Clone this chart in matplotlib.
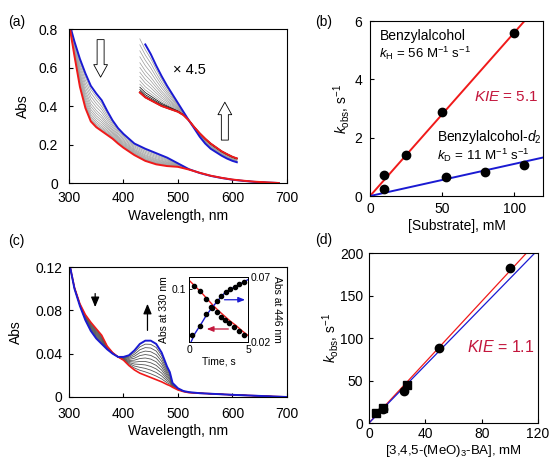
import numpy as np
import matplotlib
matplotlib.use("Agg")
import matplotlib.pyplot as plt

plt.rcParams['font.family'] = ['Liberation Sans', 'DejaVu Sans']
plt.rcParams['mathtext.fontset'] = 'custom'
plt.rcParams['mathtext.rm'] = 'Liberation Sans'
plt.rcParams['mathtext.it'] = 'Liberation Sans:italic'
plt.rcParams['mathtext.bf'] = 'Liberation Sans:bold'

RED = '#f01a1a'
BLUE = '#1a1ad2'
KIE_RED = '#c3163c'

# ---- panel (a): spectra (blue = initial, red = final) ----
a_wl = [302, 305, 310, 320, 330, 340, 350, 360, 370, 380, 390, 400, 420, 440,
        460, 480, 500, 520, 540, 560, 580, 600, 620, 640, 660, 685]
a_blue = [0.83, 0.786, 0.735, 0.645, 0.57, 0.505, 0.465, 0.43, 0.375, 0.325, 0.285,
          0.255, 0.205, 0.178, 0.155, 0.132, 0.102, 0.072, 0.052, 0.037, 0.026,
          0.017, 0.011, 0.006, 0.003, 0.0]
a_red = [0.80, 0.745, 0.66, 0.50, 0.39, 0.32, 0.29, 0.27, 0.25, 0.23, 0.205, 0.183,
         0.145, 0.115, 0.097, 0.088, 0.084, 0.07, 0.053, 0.038, 0.027, 0.018,
         0.012, 0.007, 0.004, 0.0]
# x4.5 expanded visible region
z_wl = [430, 440, 450, 460, 470, 480, 490, 500, 510, 520, 530, 540, 550, 560,
        570, 580, 590, 600, 608]
z_blue = [0.78, 0.72, 0.67, 0.61, 0.555, 0.505, 0.46, 0.415, 0.37, 0.325, 0.283,
          0.24, 0.205, 0.178, 0.16, 0.142, 0.127, 0.115, 0.108]
z_red = [0.47, 0.445, 0.43, 0.415, 0.40, 0.39, 0.38, 0.37, 0.353, 0.325, 0.29,
         0.258, 0.23, 0.205, 0.185, 0.165, 0.15, 0.136, 0.128]
# fraction of initial spectrum remaining in the intermediate traces
a_frac = [0.9, 0.8, 0.7, 0.6, 0.5, 0.42, 0.34, 0.27, 0.2, 0.14, 0.09, 0.05, 0.02]

# ---- panel (b) ----
b_h_x = [10, 25, 50, 100]
b_h_y = [0.73, 1.4, 2.87, 5.6]
b_d_x = [10, 53, 80, 107]
b_d_y = [0.23, 0.65, 0.83, 1.08]
k_h = 0.056   # s^-1 per mM
k_d = 0.011

# ---- panel (c): spectra (red = initial, blue = final) ----
c_wl = [302, 310, 320, 330, 340, 350, 360, 370, 380, 390, 400, 410, 420, 430,
        440, 450, 460, 470, 480, 485, 490, 500, 510, 520, 540, 560, 580, 600,
        650, 700]
c_blue = [0.12, 0.10, 0.084, 0.071, 0.061, 0.054, 0.049, 0.044, 0.040, 0.037,
          0.037, 0.0385, 0.043, 0.049, 0.052, 0.052, 0.049, 0.041, 0.028, 0.023,
          0.013, 0.008, 0.0055, 0.0045, 0.0035, 0.003, 0.0025, 0.002, 0.001, 0.0]
c_red = [0.12, 0.101, 0.086, 0.076, 0.069, 0.063, 0.057, 0.047, 0.041, 0.037,
         0.034, 0.029, 0.025, 0.022, 0.020, 0.018, 0.016, 0.014, 0.0115, 0.0105,
         0.009, 0.0065, 0.005, 0.004, 0.0035, 0.003, 0.0025, 0.002, 0.001, 0.0]
c_frac = [0.1, 0.2, 0.3, 0.4, 0.5, 0.6, 0.7, 0.8, 0.9]

# inset kinetics
t_330 = [0.45, 0.93, 1.41, 1.86, 2.34, 2.71, 3.05, 3.39, 3.84, 4.24, 4.69]
abs_330 = [0.1026, 0.0985, 0.0913, 0.0842, 0.0803, 0.0759, 0.0732, 0.0710,
           0.0674, 0.0646, 0.0611]
t_446 = [0.28, 0.93, 1.41, 1.92, 2.34, 2.71, 3.11, 3.47, 3.9, 4.27, 4.69]
abs_446 = [0.025, 0.0325, 0.0415, 0.0465, 0.0515, 0.0555, 0.0583, 0.0608,
           0.0625, 0.0645, 0.0665]
fit_t = [0, 0.5, 1, 1.5, 2, 2.5, 3, 3.5, 4, 4.5, 5]
fit_330 = [0.1073, 0.1023, 0.0974, 0.0919, 0.0864, 0.0814, 0.0770, 0.0726,
           0.0688, 0.0644, 0.0605]
fit_446_t = [0.17, 0.5, 1, 1.5, 2, 2.5, 3, 3.5, 4, 4.5, 5]
fit_446 = [0.02, 0.0265, 0.0335, 0.041, 0.047, 0.0525, 0.0575, 0.0605, 0.063,
           0.0655, 0.068]

# ---- panel (d) ----
d_circ_x = [10, 25, 50, 100]
d_circ_y = [16, 38, 88, 182]
d_sq_x = [5, 10, 27]
d_sq_y = [12, 18, 45]
d_slope_red = 1.79
d_slope_blue = 1.70

FS = 10


def style(ax, xlab, ylab, xl_y, yl_x, padx=6, pady=6):
    ax.tick_params(direction='in', length=3, width=0.8, labelsize=FS)
    ax.tick_params(axis='x', pad=padx)
    ax.tick_params(axis='y', pad=pady)
    for s in ax.spines.values():
        s.set_linewidth(0.8)
    ax.set_xlabel(xlab, fontsize=FS, va='center')
    ax.set_ylabel(ylab, fontsize=FS, va='center')
    ax.xaxis.set_label_coords(0.5, xl_y)
    ax.yaxis.set_label_coords(yl_x, 0.5)


fig = plt.figure(figsize=(5.49, 4.58), dpi=100)

# ================= (a) =================
ax = fig.add_axes([0.1257, 0.6004, 0.397, 0.3362])
wl = np.array(a_wl)
blue = np.array(a_blue)
red = np.array(a_red)
for f in a_frac:
    ax.plot(wl, f * blue + (1 - f) * red, color='#9a9a9a', lw=0.5)
zb, zr = np.array(z_blue), np.array(z_red)
for f in a_frac:
    col = '#9a9a9a' if f > 0.1 else 'black'
    ax.plot(z_wl, f * zb + (1 - f) * zr, color=col, lw=0.5)
ax.plot(z_wl, zr, color='black', lw=1.0)
ax.plot(wl, blue, color=BLUE, lw=1.4)
ax.plot(wl, red, color=RED, lw=1.4)
ax.plot(z_wl[1:], zb[1:], color=BLUE, lw=1.4)
ax.plot(z_wl, zr, color=RED, lw=1.4)
ax.set_xlim(300, 700)
ax.set_ylim(0, 0.8)
ax.set_xticks([300, 400, 500, 600, 700])
ax.set_yticks([0, 0.2, 0.4, 0.6, 0.8])
ax.set_yticklabels(['0', '0.2', '0.4', '0.6', '0.8'])
style(ax, 'Wavelength, nm', 'Abs', -0.212, -0.211, padx=6, pady=8)
hollow = dict(arrowstyle='simple,head_length=0.5,head_width=0.55,tail_width=0.28',
              fc='white', ec='black', lw=0.6, shrinkA=0, shrinkB=0, mutation_scale=18)
ax.annotate('', xy=(358, 0.55), xytext=(358, 0.745), arrowprops=hollow)
ax.annotate('', xy=(586, 0.42), xytext=(586, 0.223), arrowprops=hollow)
ax.text(491, 0.587, '× 4.5', fontsize=10.5, va='center')
fig.text(0.014, 0.952, '(a)', fontsize=FS, va='center')

# ================= (b) =================
ax = fig.add_axes([0.674, 0.572, 0.315, 0.382])
xl = np.array([0, 120])
ax.plot(xl, k_h * xl, color=RED, lw=1.4)
ax.plot(xl, k_d * xl, color=BLUE, lw=1.4)
ax.plot(b_h_x, b_h_y, 'o', color='black', ms=6)
ax.plot(b_d_x, b_d_y, 'o', color='black', ms=6)
ax.set_xlim(0, 120)
ax.set_ylim(0, 6)
ax.set_xticks([0, 50, 100])
ax.set_yticks([0, 2, 4, 6])
style(ax, '[Substrate], mM', r'$k_{\rm obs}$, s$^{-1}$', -0.171, -0.164,
      padx=4.5, pady=5.5)
ax.text(6.5, 5.49, 'Benzylalcohol', fontsize=10, va='center')
ax.text(6.5, 4.91, r'$k_{\rm H}$ = 56 M$^{-1}$ s$^{-1}$', fontsize=9.5, va='center')
ax.text(72.4, 3.4, r'$KIE$ = 5.1', fontsize=11, va='center', color=KIE_RED)
ax.text(46.2, 2.04, r'Benzylalcohol-$d_2$', fontsize=10, va='center')
ax.text(46.2, 1.38, r'$k_{\rm D}$ = 11 M$^{-1}$ s$^{-1}$', fontsize=9.6, va='center')
fig.text(0.574, 0.953, '(b)', fontsize=FS, va='center')

# ================= (c) =================
ax = fig.add_axes([0.1257, 0.1332, 0.397, 0.2838])
wl = np.array(c_wl)
cb, cr = np.array(c_blue), np.array(c_red)
for f in c_frac:
    ax.plot(wl, f * cb + (1 - f) * cr, color='#555555', lw=0.6)
ax.plot(wl, cr, color=RED, lw=1.2)
ax.plot(wl, cb, color=BLUE, lw=1.4)
ax.set_xlim(300, 700)
ax.set_ylim(0, 0.12)
ax.set_xticks([300, 400, 500, 600, 700])
ax.set_yticks([0, 0.04, 0.08, 0.12])
ax.set_yticklabels(['0', '0.04', '0.08', '0.12'])
style(ax, 'Wavelength, nm', 'Abs', -0.259, -0.245, padx=7, pady=5)
thin = dict(arrowstyle='-|>,head_length=0.6,head_width=0.25', color='black',
            lw=0.9, shrinkA=0, shrinkB=0, mutation_scale=10)
ax.annotate('', xy=(348, 0.083), xytext=(348, 0.0955), arrowprops=thin)
ax.annotate('', xy=(444, 0.086), xytext=(444, 0.0615), arrowprops=thin)
fig.text(0.014, 0.474, '(c)', fontsize=FS, va='center')

# inset
ins = fig.add_axes([0.3443, 0.2533, 0.1075, 0.1419])
ins.plot(fit_t, fit_330, color=RED, lw=1.0)
ins.plot(t_330, abs_330, 'o', color='black', ms=3)
ins.set_xlim(0, 5)
ins.set_ylim(0.055, 0.11)
ins.set_xticks([0, 5])
ins.set_yticks([0.1])
ins.set_yticklabels(['0.1'])
ins.tick_params(direction='in', length=2, width=0.6, labelsize=7.5, pad=2)
ins.set_xlabel('Time, s', fontsize=7.5, labelpad=1)
ins.set_ylabel('Abs at 330 nm', fontsize=7.5, labelpad=2)
ins2 = ins.twinx()
ins2.plot(fit_446_t, fit_446, color=BLUE, lw=1.0)
ins2.plot(t_446, abs_446, 'o', color='black', ms=3)
ins2.set_ylim(0.02, 0.07)
ins2.set_yticks([0.02, 0.07])
ins2.set_yticklabels(['0.02', '0.07'])
ins2.tick_params(direction='in', length=2, width=0.6, labelsize=7.5, pad=2)
ins2.set_ylabel('Abs at 446 nm', fontsize=7.5, rotation=270, labelpad=8)
for s in list(ins.spines.values()) + list(ins2.spines.values()):
    s.set_linewidth(0.7)
ins2.annotate('', xy=(4.75, 0.0525), xytext=(3.0, 0.0525),
              arrowprops=dict(arrowstyle='-|>,head_length=0.5,head_width=0.2',
                              color=BLUE, lw=0.9, shrinkA=0, shrinkB=0,
                              mutation_scale=8))
ins2.annotate('', xy=(1.5, 0.03), xytext=(3.33, 0.03),
              arrowprops=dict(arrowstyle='-|>,head_length=0.5,head_width=0.2',
                              color=KIE_RED, lw=0.9, shrinkA=0, shrinkB=0,
                              mutation_scale=8))

# ================= (d) =================
ax = fig.add_axes([0.6721, 0.0764, 0.308, 0.371])
xl = np.array([0, 120])
ax.plot(xl, d_slope_red * xl, color=RED, lw=0.9)
ax.plot(xl, d_slope_blue * xl, color=BLUE, lw=0.9)
ax.plot(d_sq_x, d_sq_y, 's', color='black', ms=6)
ax.plot(d_circ_x, d_circ_y, 'o', color='black', ms=6)
ax.set_xlim(0, 120)
ax.set_ylim(0, 200)
ax.set_xticks([0, 40, 80, 120])
ax.set_yticks([0, 50, 100, 150, 200])
style(ax, r'[3,4,5-(MeO)$_3$-BA], mM', r'$k_{\rm obs}$, s$^{-1}$', -0.163, -0.225,
      padx=3, pady=4)
ax.xaxis.label.set_fontsize(9.5)
ax.text(69.3, 89.8, r'$KIE$ = 1.1', fontsize=11.5, va='center', color=KIE_RED)
fig.text(0.574, 0.476, '(d)', fontsize=FS, va='center')

fig.savefig('out.png', dpi=100)
